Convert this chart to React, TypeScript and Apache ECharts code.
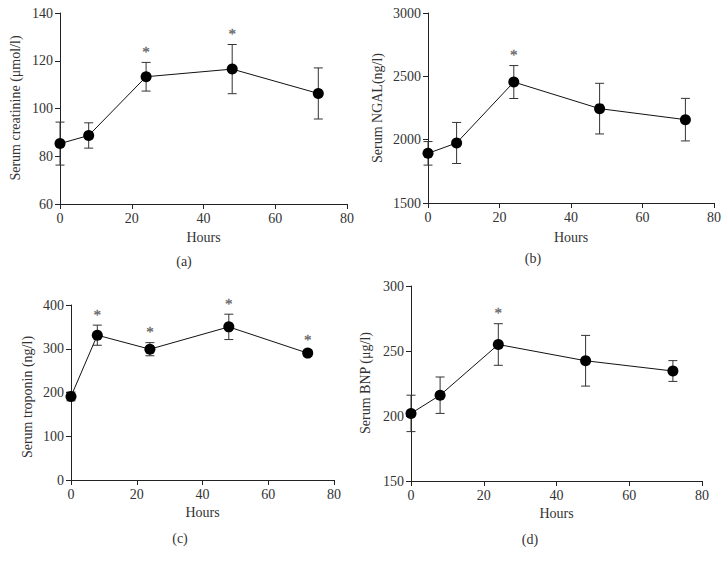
import React, { useEffect, useRef } from "react";
import * as echarts from "echarts";

const hours = [0, 8, 24, 48, 72];
const xTicks = { min: 0, max: 80, interval: 20 };

const creatinineMean = [85.3, 88.7, 113.3, 116.5, 106.3];
const creatinineErr = [9, 5.3, 6, 10.3, 10.7];
const creatinineSig = [false, false, true, true, false];

const ngalMean = [1892, 1974, 2455, 2245, 2158];
const ngalErr = [93, 162, 130, 200, 168];
const ngalSig = [false, false, true, false, false];

const troponinMean = [191, 331, 299, 350, 290];
const troponinErr = [10, 23, 15, 29, 7];
const troponinSig = [false, true, true, true, true];

const bnpMean = [202, 216, 255, 242.5, 234.6];
const bnpErr = [14, 14, 16, 19.5, 8];
const bnpSig = [false, false, true, false, false];

const panels = [
  { tag: "(a)", yName: "Serum creatinine (\u03bcmol/l)", mean: creatinineMean, err: creatinineErr, sig: creatinineSig, yMin: 60, yMax: 140, yInt: 20 },
  { tag: "(b)", yName: "Serum NGAL(ng/l)", mean: ngalMean, err: ngalErr, sig: ngalSig, yMin: 1500, yMax: 3000, yInt: 500 },
  { tag: "(c)", yName: "Serum troponin (ng/l)", mean: troponinMean, err: troponinErr, sig: troponinSig, yMin: 0, yMax: 400, yInt: 100 },
  { tag: "(d)", yName: "Serum BNP (\u03bcg/l)", mean: bnpMean, err: bnpErr, sig: bnpSig, yMin: 150, yMax: 300, yInt: 50 },
];

const layout = [
  { grid: { left: 60, top: 13, width: 287, height: 191 }, yName: [15, 108], xGap: 26, tag: [184, 261] },
  { grid: { left: 428, top: 13, width: 286, height: 190 }, yName: [377, 108], xGap: 27, tag: [533, 258] },
  { grid: { left: 71, top: 305, width: 263, height: 175 }, yName: [27, 397], xGap: 25, tag: [180, 538] },
  { grid: { left: 411, top: 286, width: 291, height: 195 }, yName: [365, 383], xGap: 25, tag: [530, 539] },
];

const FONT = "'Liberation Serif', 'DejaVu Serif', serif";
const AXIS = "#222";
const TEXT = "#333";

export default function App() {
  const ref = useRef<HTMLDivElement>(null);
  useEffect(() => {
    if (!ref.current) return;
    const chart = echarts.init(ref.current, null, { renderer: "svg" });
    const grids: any[] = [];
    const xAxes: any[] = [];
    const yAxes: any[] = [];
    const series: any[] = [];
    const graphics: any[] = [];
    panels.forEach((p, i) => {
      const L = layout[i];
      grids.push({ ...L.grid, containLabel: false });
      xAxes.push({
        type: "value",
        gridIndex: i,
        min: xTicks.min,
        max: xTicks.max,
        interval: xTicks.interval,
        name: "Hours",
        nameLocation: "middle",
        nameGap: L.xGap,
        nameTextStyle: { fontFamily: FONT, fontSize: 14, color: TEXT },
        axisLine: { onZero: false, lineStyle: { color: AXIS, width: 1 } },
        axisTick: { length: 5, lineStyle: { color: AXIS } },
        axisLabel: { fontFamily: FONT, fontSize: 14, color: TEXT, margin: 7, formatter: (v: number) => String(v) },
        splitLine: { show: false },
      });
      yAxes.push({
        type: "value",
        gridIndex: i,
        min: p.yMin,
        max: p.yMax,
        interval: p.yInt,
        axisLine: { show: true, lineStyle: { color: AXIS, width: 1 } },
        axisTick: { show: true, length: 5, lineStyle: { color: AXIS } },
        axisLabel: { fontFamily: FONT, fontSize: 14, color: TEXT, margin: 7, formatter: (v: number) => String(v) },
        splitLine: { show: false },
      });
      const errData = hours.map((h, k) => [h, p.mean[k] - p.err[k], p.mean[k] + p.err[k], p.sig[k] ? 1 : 0]);
      series.push({
        type: "custom",
        xAxisIndex: i,
        yAxisIndex: i,
        z: 2,
        color: "#444",
        itemStyle: { color: "#444" },
        data: errData,
        renderItem: (params: any, api: any) => {
          const x = api.value(0);
          const lo = api.coord([x, api.value(1)]);
          const hi = api.coord([x, api.value(2)]);
          const w = 4.5;
          const st = { stroke: "#333", lineWidth: 1 };
          const children: any[] = [
            { type: "line", shape: { x1: hi[0], y1: hi[1], x2: lo[0], y2: lo[1] }, style: st },
            { type: "line", shape: { x1: hi[0] - w, y1: hi[1], x2: hi[0] + w, y2: hi[1] }, style: st },
            { type: "line", shape: { x1: lo[0] - w, y1: lo[1], x2: lo[0] + w, y2: lo[1] }, style: st },
          ];
          if (api.value(3) === 1) {
            children.push({
              type: "text",
              x: hi[0],
              y: hi[1] - 3,
              style: {
                text: "*",
                fill: "#666",
                stroke: "#666",
                lineWidth: 0.3,
                fontFamily: FONT,
                fontSize: 15,
                align: "center",
                verticalAlign: "bottom",
              },
            });
          }
          return { type: "group", children };
        },
      });
      series.push({
        type: "line",
        xAxisIndex: i,
        yAxisIndex: i,
        z: 3,
        data: hours.map((h, k) => [h, p.mean[k]]),
        symbol: "circle",
        symbolSize: 11,
        itemStyle: { color: "#000" },
        lineStyle: { color: "#111", width: 1 },
      });
      graphics.push({
        type: "text",
        x: L.tag[0],
        y: L.tag[1],
        style: { text: p.tag, fill: TEXT, font: `14px ${FONT}`, textAlign: "center", textVerticalAlign: "middle" },
      });
      graphics.push({
        type: "text",
        x: L.yName[0],
        y: L.yName[1],
        rotation: Math.PI / 2,
        style: { text: p.yName, fill: TEXT, font: `14px ${FONT}`, textAlign: "center", textVerticalAlign: "middle" },
      });
    });
    chart.setOption({
      animation: false,
      backgroundColor: "#fff",
      grid: grids,
      xAxis: xAxes,
      yAxis: yAxes,
      series,
      graphic: graphics,
    });
    return () => chart.dispose();
  }, []);
  return (
    <div
      ref={ref}
      style={{ position: "absolute", left: 0, top: 0, width: 728, height: 565, background: "#fff" }}
    />
  );
}
